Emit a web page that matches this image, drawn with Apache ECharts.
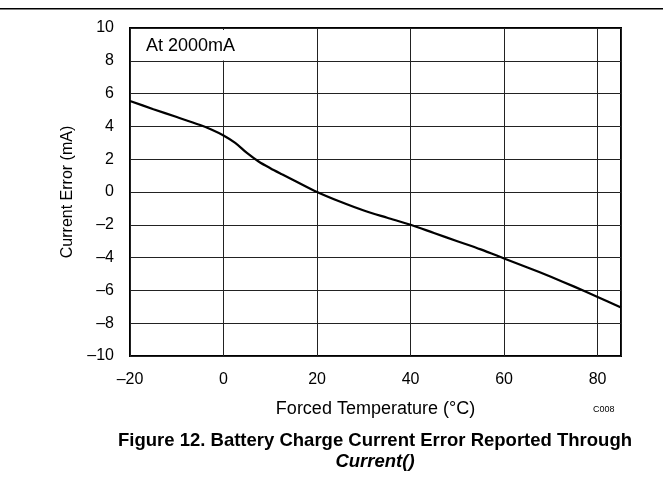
<!DOCTYPE html>
<html><head><meta charset="utf-8">
<script src="https://cdn.jsdelivr.net/npm/echarts@6/dist/echarts.min.js"></script>
<style>html,body{margin:0;padding:0;background:#fff}#c{width:663px;height:490px}</style>
</head><body><div id="c"></div>
<script>
const temps = [-20,-15,-10,-5,-2.5,0,2.5,5,7.5,10,12.5,15,20,25,30,35,40,45,50,55,60,65,70,75,80,85];
const errs  = [5.55,5.05,4.57,4.08,3.8,3.45,3.0,2.38,1.86,1.45,1.08,0.72,0.0,-0.6,-1.13,-1.57,-2.0,-2.5,-3.0,-3.5,-4.05,-4.6,-5.17,-5.77,-6.4,-7.05];
const xTicks = {min:-20, max:85, interval:20};
const yTicks = {min:-10, max:10, interval:2};
const annotation = 'At 2000mA';
const xTitle = 'Forced Temperature (°C)';
const yTitle = 'Current Error (mA)';
const caption1 = 'Figure 12. Battery Charge Current Error Reported Through';
const caption2 = 'Current()';
const code = 'C008';

const fmt = v => v < 0 ? '\u2013' + Math.abs(v) : String(v);
const font = '"Liberation Sans", Arial, sans-serif';
const chart = echarts.init(document.getElementById('c'));
chart.setOption({
  animation:false,
  backgroundColor:'#fff',
  grid:{left:130,right:42,top:28,bottom:134,show:true,borderColor:'#000',borderWidth:2,backgroundColor:'transparent'},
  xAxis:{type:'value',min:xTicks.min,max:xTicks.max,interval:xTicks.interval,
    axisLine:{show:false},axisTick:{show:false},
    splitLine:{show:true,lineStyle:{color:'#222',width:1}},
    axisLabel:{formatter:fmt,color:'#000',fontSize:16,fontFamily:font,margin:16,showMaxLabel:false,showMinLabel:true},
    name:xTitle,nameLocation:'middle',nameGap:53,nameTextStyle:{color:'#000',fontSize:18,fontFamily:font,verticalAlign:'middle'}},
  yAxis:{type:'value',min:yTicks.min,max:yTicks.max,interval:yTicks.interval,
    axisLine:{show:false},axisTick:{show:false},
    splitLine:{show:true,lineStyle:{color:'#222',width:1}},
    axisLabel:{formatter:fmt,color:'#000',fontSize:16,fontFamily:font,margin:16},
    name:yTitle,nameLocation:'middle',nameGap:62,nameRotate:90,nameTextStyle:{color:'#000',fontSize:16,fontFamily:font,verticalAlign:'middle'}},
  series:[{type:'line',data:temps.map((t,i)=>[t,errs[i]]),smooth:0.3,showSymbol:false,
    lineStyle:{color:'#000',width:2.2},z:5}],
  graphic:[
    {type:'rect',shape:{x:0,y:8,width:663,height:1.5},style:{fill:'#000'}},
    {type:'rect',shape:{x:132,y:30,width:116,height:30.5},style:{fill:'#fff'},z:100},
    {type:'text',x:146,y:46,style:{text:annotation,fill:'#000',font:'18px '+font,textVerticalAlign:'middle'},z:101},
    {type:'text',x:593,y:410,style:{text:code,fill:'#000',font:'9px '+font,textVerticalAlign:'middle'},z:101},
    {type:'text',x:375,y:441,style:{text:caption1,fill:'#000',font:'bold 18.5px '+font,textAlign:'center',textVerticalAlign:'middle'},z:101},
    {type:'text',x:375,y:462,style:{text:caption2,fill:'#000',font:'italic bold 18.5px '+font,textAlign:'center',textVerticalAlign:'middle'},z:101}
  ]
});
</script></body></html>
